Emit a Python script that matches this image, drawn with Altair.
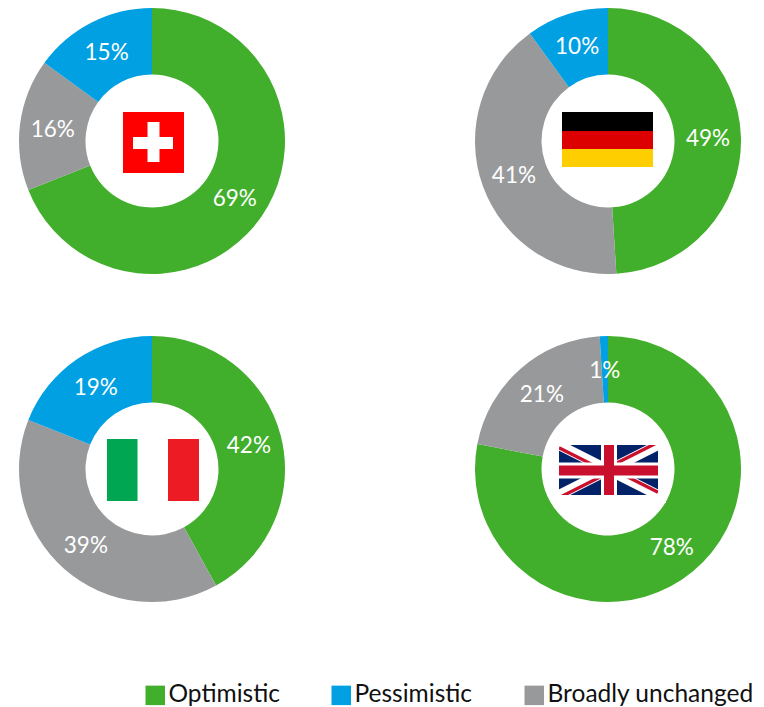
import altair as alt
import pandas as pd

# ---- chart values -------------------------------------------------------
countries = ["Switzerland", "Germany", "Italy", "UK"]
center_x = [152, 608, 152, 608]
center_y = [141, 141, 469, 469]
series_order = ["Optimistic", "Broadly unchanged", "Pessimistic"]
optimistic = [69, 49, 42, 78]
unchanged = [16, 41, 39, 21]
pessimistic = [15, 10, 19, 1]
legend_order = ["Optimistic", "Pessimistic", "Broadly unchanged"]
legend_colors = ["#41AF2B", "#00A0E3", "#98999B"]

# ---- flag parts: x, x2, y, y2, colour -----------------------------------
flag_rects = [
    # Switzerland
    (123, 184, 112, 173, "#FF0000"),
    (133, 173, 137, 149, "#FFFFFF"),
    (147.5, 159.5, 122, 162, "#FFFFFF"),
    # Germany
    (562, 653, 112, 131, "#000000"),
    (562, 653, 131, 149, "#DD0000"),
    (562, 653, 149, 167, "#FFCE00"),
    # Italy
    (107, 137.5, 439, 501, "#00A651"),
    (168, 199, 439, 501, "#ED1C24"),
    # UK background
    (559, 658, 445, 495, "#012169"),
]
uk_diagonals = [
    (559, 658, 445, 495, "#FFFFFF", 10),
    (559, 658, 495, 445, "#FFFFFF", 10),
    (559, 608.5, 447.8, 472.8, "#C8102E", 3.2),
    (608.5, 658, 467.2, 442.2, "#C8102E", 3.2),
    (608.5, 658, 467.2, 492.2, "#C8102E", 3.2),
    (559, 608.5, 497.8, 472.8, "#C8102E", 3.2),
]
uk_top = [
    # mask that trims the diagonals to the flag
    (551, 559, 437, 503, "#FFFFFF"),
    (658, 666, 437, 503, "#FFFFFF"),
    (551, 666, 437, 445, "#FFFFFF"),
    (551, 666, 495, 503, "#FFFFFF"),
    # cross
    (601, 617, 445, 495, "#FFFFFF"),
    (559, 658, 462.5, 478.5, "#FFFFFF"),
    (604, 614, 445, 495, "#C8102E"),
    (559, 658, 465.5, 475.5, "#C8102E"),
]

# ---- tables -------------------------------------------------------------
rows = []
for i, c in enumerate(countries):
    start = 0
    vals = [optimistic[i], unchanged[i], pessimistic[i]]
    for s, v in zip(series_order, vals):
        rows.append(dict(country=c, cx=center_x[i], cy=center_y[i], series=s, value=v,
                         start=start, end=start + v, mid=start + v / 2, label=f"{v}%"))
        start += v
donuts = pd.DataFrame(rows)

rect_cols = ["x", "x2", "y", "y2", "color"]
rects_under = pd.DataFrame(flag_rects, columns=rect_cols)
rects_over = pd.DataFrame(uk_top, columns=rect_cols)
diagonals = pd.DataFrame(uk_diagonals, columns=rect_cols + ["w"])

# ---- scales -------------------------------------------------------------
W, H = 748, 699
xs = alt.Scale(domain=[8, 756], nice=False, zero=False)
ys = alt.Scale(domain=[707, 8], nice=False, zero=False)
ts = alt.Scale(domain=[0, 100], range=[0, 6.283185307])
FONT = "Lato"

arcs = alt.Chart(donuts).mark_arc(innerRadius=66.5, outerRadius=133).encode(
    x=alt.X("cx:Q", scale=xs, axis=None),
    y=alt.Y("cy:Q", scale=ys, axis=None),
    theta=alt.Theta("start:Q", scale=ts, stack=None),
    theta2="end:Q",
    color=alt.Color(
        "series:N",
        scale=alt.Scale(domain=legend_order, range=legend_colors),
        legend=alt.Legend(
            title=None, orient="none", direction="horizontal", columns=3,
            legendX=135, legendY=675, padding=0,
            symbolType="square", symbolSize=380, symbolStrokeWidth=0, symbolOpacity=1,
            labelFont=FONT, labelFontSize=24.5, labelColor="#111111", labelOffset=1,
            columnPadding=49, labelLimit=300,
        ),
    ),
)

labels = alt.Chart(donuts).mark_text(
    radius=100, color="white", font=FONT, fontSize=22.5, baseline="middle", align="center", dy=1.5
).encode(
    x=alt.X("cx:Q", scale=xs, axis=None),
    y=alt.Y("cy:Q", scale=ys, axis=None),
    theta=alt.Theta("mid:Q", scale=ts, stack=None),
    text="label:N",
)


def rect_layer(df):
    return alt.Chart(df).mark_rect(stroke=None).encode(
        x=alt.X("x:Q", scale=xs, axis=None),
        x2="x2:Q",
        y=alt.Y("y:Q", scale=ys, axis=None),
        y2="y2:Q",
        color=alt.Color("color:N", scale=None, legend=None),
    )


diag_layer = alt.Chart(diagonals).mark_rule().encode(
    x=alt.X("x:Q", scale=xs, axis=None),
    x2="x2:Q",
    y=alt.Y("y:Q", scale=ys, axis=None),
    y2="y2:Q",
    color=alt.Color("color:N", scale=None, legend=None),
    strokeWidth=alt.StrokeWidth("w:Q", scale=None, legend=None),
)

chart = (
    alt.layer(arcs, labels, rect_layer(rects_under), diag_layer, rect_layer(rects_over))
    .resolve_scale(color="independent")
    .properties(width=W, height=H, padding=0, autosize=alt.AutoSizeParams(type="none"))
    .configure_view(stroke=None)
)

chart.save("out.html", embed_options={"renderer": "svg", "actions": False})
